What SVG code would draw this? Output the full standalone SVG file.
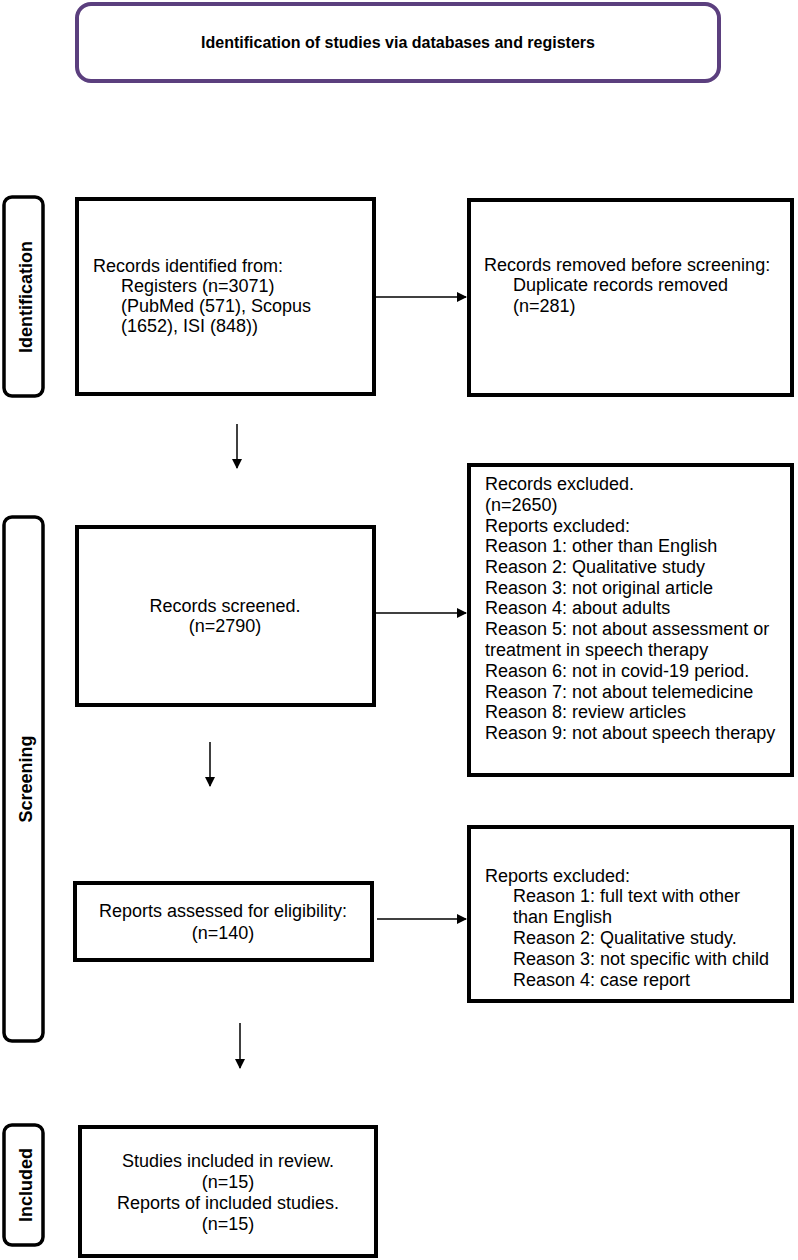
<svg xmlns="http://www.w3.org/2000/svg" width="798" height="1260" viewBox="0 0 798 1260">
<style>
.box{fill:#fff;stroke:#000;stroke-width:4}
.side{fill:#fff;stroke:#000;stroke-width:3.5}
.t{font-family:"Liberation Sans",Arial,sans-serif;font-size:18px;fill:#000}
.b{font-family:"Liberation Sans",Arial,sans-serif;font-size:18px;font-weight:bold;fill:#000}
.c{text-anchor:middle}
.ln{stroke:#000;stroke-width:1.5;fill:none}
</style>
<defs>
<marker id="ah" markerWidth="10" markerHeight="10" refX="9" refY="5" orient="auto" markerUnits="userSpaceOnUse">
<path d="M0,0 L10,5 L0,10 Z" fill="#000"/>
</marker>
</defs>
<rect width="798" height="1260" fill="#fff"/>
<g id="title">
<rect x="77" y="4" width="642" height="77" rx="14" fill="#fff" stroke="#5b3f7e" stroke-width="4"/>
<text class="b c" x="398" y="48" style="font-size:16px">Identification of studies via databases and registers</text>
</g>
<g id="label-identification">
<rect class="side" x="4" y="197" width="39" height="199" rx="8"/>
<text class="b c" transform="translate(31.5,297) rotate(-90)">Identification</text>
</g>
<g id="label-screening">
<rect class="side" x="4" y="517" width="39" height="524" rx="8"/>
<text class="b c" transform="translate(31.5,779) rotate(-90)">Screening</text>
</g>
<g id="label-included">
<rect class="side" x="4" y="1125" width="39" height="120" rx="8"/>
<text class="b c" transform="translate(31.5,1185) rotate(-90)">Included</text>
</g>
<g id="records-identified">
<rect class="box" x="77" y="199" width="297" height="195"/>
<text class="t" x="93" y="272">Records identified from:</text>
<text class="t" x="121" y="292">Registers (n=3071)</text>
<text class="t" x="121" y="312">(PubMed (571), Scopus</text>
<text class="t" x="121" y="332">(1652), ISI (848))</text>
</g>
<g id="records-removed">
<rect class="box" x="469" y="200" width="323" height="195"/>
<text class="t" x="484" y="271">Records removed before screening:</text>
<text class="t" x="513" y="291">Duplicate records removed</text>
<text class="t" x="513" y="312">(n=281)</text>
</g>
<g id="records-screened">
<rect class="box" x="77" y="527" width="297" height="178"/>
<text class="t c" x="225" y="612">Records screened.</text>
<text class="t c" x="225" y="632">(n=2790)</text>
</g>
<g id="records-excluded">
<rect class="box" x="469" y="465" width="323" height="310"/>
<text class="t" x="485" y="490">Records excluded.</text>
<text class="t" x="485" y="511">(n=2650)</text>
<text class="t" x="485" y="532">Reports excluded:</text>
<text class="t" x="485" y="552">Reason 1: other than English</text>
<text class="t" x="485" y="573">Reason 2: Qualitative study</text>
<text class="t" x="485" y="594">Reason 3: not original article</text>
<text class="t" x="485" y="614">Reason 4: about adults</text>
<text class="t" x="485" y="635">Reason 5: not about assessment or</text>
<text class="t" x="485" y="656">treatment in speech therapy</text>
<text class="t" x="485" y="677">Reason 6: not in covid-19 period.</text>
<text class="t" x="485" y="698">Reason 7: not about telemedicine</text>
<text class="t" x="485" y="718">Reason 8: review articles</text>
<text class="t" x="485" y="739">Reason 9: not about speech therapy</text>
</g>
<g id="reports-assessed">
<rect class="box" x="75" y="883" width="297" height="77"/>
<text class="t c" x="223" y="917">Reports assessed for eligibility:</text>
<text class="t c" x="223" y="939">(n=140)</text>
</g>
<g id="reports-excluded">
<rect class="box" x="469" y="827" width="323" height="174"/>
<text class="t" x="485" y="882">Reports excluded:</text>
<text class="t" x="513" y="902">Reason 1: full text with other</text>
<text class="t" x="513" y="923">than English</text>
<text class="t" x="513" y="944">Reason 2: Qualitative study.</text>
<text class="t" x="513" y="965">Reason 3: not specific with child</text>
<text class="t" x="513" y="986">Reason 4: case report</text>
</g>
<g id="studies-included">
<rect class="box" x="80" y="1127" width="296" height="129"/>
<text class="t c" x="228" y="1167">Studies included in review.</text>
<text class="t c" x="228" y="1188">(n=15)</text>
<text class="t c" x="228" y="1209">Reports of included studies.</text>
<text class="t c" x="228" y="1230">(n=15)</text>
</g>
<g id="connectors">
<line class="ln" x1="376" y1="297" x2="466" y2="297" marker-end="url(#ah)"/>
<line class="ln" x1="376" y1="613" x2="466" y2="613" marker-end="url(#ah)"/>
<line class="ln" x1="377" y1="919" x2="466" y2="919" marker-end="url(#ah)"/>
<line class="ln" x1="237" y1="424" x2="237" y2="468" marker-end="url(#ah)"/>
<line class="ln" x1="210" y1="742" x2="210" y2="786" marker-end="url(#ah)"/>
<line class="ln" x1="240" y1="1023" x2="240" y2="1068" marker-end="url(#ah)"/>
</g>
</svg>
